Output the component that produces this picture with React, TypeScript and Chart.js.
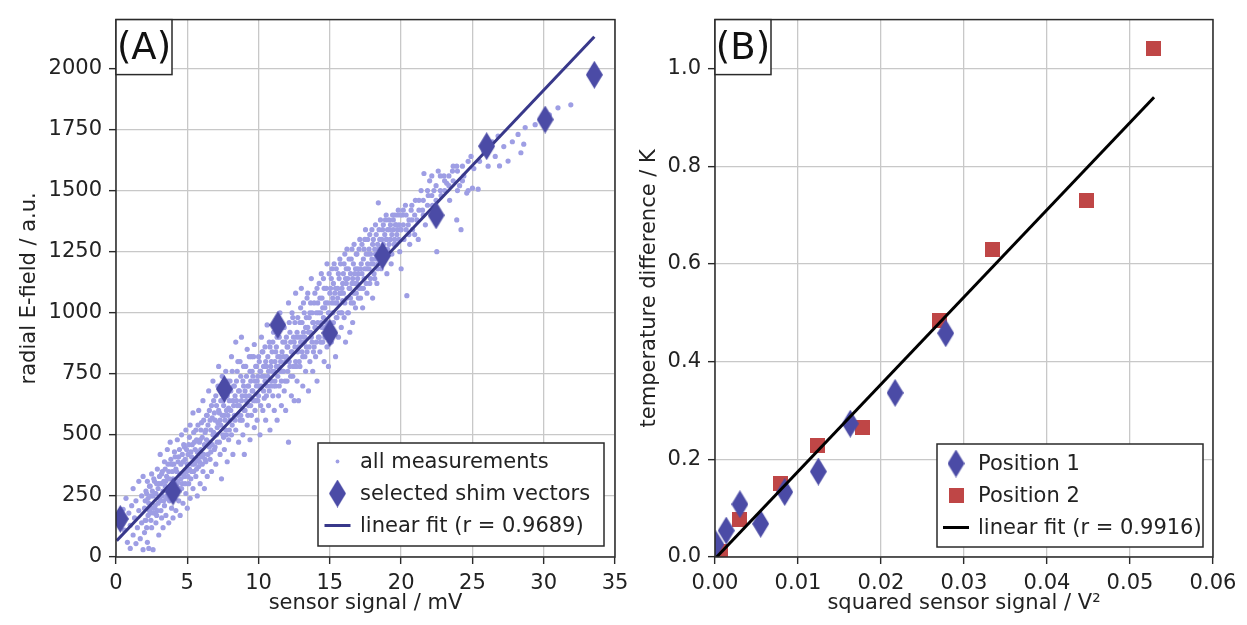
import React, { useEffect, useRef } from 'react';
import { Chart, registerables } from 'chart.js';

Chart.register(...registerables);

const FONT_FAMILY = '"DejaVu Sans", "Liberation Sans", sans-serif';
const TEXT_COLOR = '#222222';
const GRID_COLOR = '#c8c8c8';
const FRAME_COLOR = '#2a2a2a';
const DOT_COLOR = 'rgb(158,158,228)';
const DIAMOND_COLOR = '#4b4ba6';
const FIT_A_COLOR = '#38388a';
const SQUARE_COLOR = '#bf4646';
const FIT_B_COLOR = '#000000';

// ---------------- Panel A data ----------------
// all measurements: outer part of the cloud
const measurementsOuter: [number, number][] = [
  [0.4,150],[0.5,195],[0.6,110],[0.7,240],[0.8,60],[0.9,180],[1.0,35],[1.0,130],[1.1,210],[1.2,90],[1.2,280],[1.3,160],[1.4,55],[1.4,230],[1.5,120],[1.6,190],[1.6,310],[1.7,75],[1.8,250],[1.8,140],[1.9,30],[1.9,330],[2.0,200],[2.0,100],
  [2.1,270],[2.1,150],[2.2,60],[2.2,310],[2.3,220],[2.3,35],[2.4,180],[2.4,290],[2.5,120],[2.5,340],[2.6,250],[2.6,30],[2.7,200],[2.7,310],[2.8,140],[2.8,260],[2.9,360],[2.9,190],[3.0,90],[3.0,300],[3.1,230],[3.1,420],[3.2,160],[3.2,340],[3.3,270],[3.3,120],[3.4,390],[3.4,210],[3.5,310],[3.5,170],
  [3.6,440],[3.6,250],[3.7,350],[3.7,140],[3.8,470],[3.8,290],[3.9,200],[3.9,380],[4.0,160],[4.0,320],[4.1,430],[4.1,240],[4.2,360],[4.2,190],[4.3,480],[4.3,300],[4.4,230],[4.4,410],[4.5,340],[4.5,170],[4.6,500],[4.6,280],[4.7,390],[4.7,220],[4.8,450],[4.8,330],[4.9,260],[4.9,520],[5.0,380],[5.0,200],
  [5.1,460],[5.1,300],[5.2,540],[5.2,240],[5.3,410],[5.3,350],[5.4,590],[5.4,280],[5.5,470],[5.5,380],[5.6,330],[5.6,520],[5.7,250],[5.7,430],[5.8,600],[5.8,370],[5.9,480],[5.9,300],[6.0,550],[6.0,410],[6.1,350],[6.1,640],[6.2,460],[6.2,280],[6.3,520],[6.3,390],[6.4,580],[6.4,330],[6.5,470],[6.5,680],
  [6.6,400],[6.6,560],[6.7,620],[6.7,350],[6.8,500],[6.8,720],[6.9,440],[6.9,590],[7.0,380],[7.0,660],[7.1,530],[7.1,470],[7.2,780],[7.2,600],[7.3,420],[7.3,560],[7.4,700],[7.4,320],[7.5,500],[7.5,640],[7.6,580],[7.6,440],[7.7,760],[7.7,520],[7.8,660],[7.8,390],[7.9,610],[7.9,480],[8.0,720],[8.0,560],
  [8.1,820],[8.1,500],[8.2,640],[8.2,420],[8.3,700],[8.3,580],[8.4,880],[8.4,520],[8.5,760],[8.5,620],[8.6,470],[8.6,680],[8.7,800],[8.7,560],[8.8,640],[8.8,900],[8.9,720],[8.9,500],[9.0,600],[9.0,420],[9.1,780],[9.1,660],[9.2,540],[9.2,850],[9.3,700],[9.3,620],[9.4,480],[9.4,760],[9.5,820],[9.5,580],
  [9.6,680],[9.6,740],[9.7,530],[9.7,870],[9.8,640],[9.8,780],[9.9,720],[9.9,560],[10.0,820],[10.0,660],[10.1,500],[10.1,760],[10.2,900],[10.2,700],[10.3,600],[10.3,840],[10.4,740],[10.4,650],[10.5,560],[10.5,800],[10.6,950],[10.6,700],[10.7,760],[10.7,620],[10.8,860],[10.8,520],[10.9,720],[10.9,800],[11.0,660],[11.0,880],
  [11.1,760],[11.1,600],[11.2,840],[11.2,700],[11.3,560],[11.3,900],[11.4,780],[11.4,660],[11.5,1000],[11.5,820],[11.6,720],[11.6,620],[11.7,880],[11.7,760],[11.8,680],[11.8,940],[11.9,800],[11.9,600],[12.0,860],[12.0,720],[12.1,470],[12.1,1040],[12.2,780],[12.2,920],[12.3,660],[12.3,840],[12.4,740],[12.4,980],[12.5,880],[12.5,640],
  [12.6,800],[12.6,1080],[12.7,720],[12.7,920],[12.8,860],[12.8,640],[12.9,960],[12.9,780],[13.0,900],[13.0,1100],[13.1,820],[13.1,700],[13.2,1000],[13.2,880],[13.3,760],[13.3,940],[13.4,1060],[13.4,840],[13.5,920],[13.5,680],[13.6,1000],[13.6,800],[13.7,1140],[13.7,900],[13.8,960],[13.8,760],[13.9,1040],[13.9,860],[14.0,940],[14.0,820],
  [14.1,1100],[14.1,720],[14.2,1000],[14.2,900],[14.3,1060],[14.3,840],[14.4,960],[14.4,1160],[14.5,880],[14.5,1020],[14.6,800],[14.6,1100],[14.7,940],[14.7,1040],[14.8,1200],[14.8,860],[14.9,1000],[14.9,780],[15.0,1080],[15.0,960],[15.1,1140],[15.1,880],[15.2,1000],[15.2,1060],[15.3,920],[15.3,1200],[15.4,820],[15.4,1100],[15.5,980],[15.5,1040],
  [15.6,1160],[15.6,900],[15.7,1080],[15.7,1220],[15.8,1000],[15.8,940],[15.9,1120],[15.9,1050],[16.0,1200],[16.0,980],[16.1,880],[16.1,1140],[16.2,1060],[16.2,1260],[16.3,1000],[16.3,1180],[16.4,1100],[16.4,920],[16.5,1220],[16.5,1040],[16.6,1140],[16.6,960],[16.7,1280],[16.7,1080],[16.8,1180],[16.8,1020],[16.9,1120],[16.9,1240],[17.0,1060],[17.0,1160],
  [17.1,1300],[17.2,1100],[17.2,1200],[17.3,1020],[17.4,1260],[17.4,1140],[17.5,1340],[17.6,1180],[17.6,1080],[17.7,1240],[17.8,1120],[17.8,1320],[17.9,1200],[18.0,1060],[18.0,1280],[18.1,1160],[18.2,1360],[18.2,1240],[18.3,1120],[18.4,1450],[18.4,1200],[18.5,1300],
  [18.6,1180],[18.7,1340],[18.8,1260],[18.9,1380],[19.0,1160],[19.0,1300],[19.1,1240],[19.2,1340],[19.3,1200],[19.4,1400],[19.5,1280],[19.6,1360],[19.7,1320],[19.8,1420],[19.9,1250],[20.0,1340],[20.0,1180],
  [20.1,1400],[20.2,1300],[20.3,1440],[20.4,1070],[20.5,1360],[20.6,1280],[20.7,1420],[20.8,1340],[21.0,1460],[21.1,1380],[21.2,1300],[21.4,1500],[21.5,1420],[21.6,1570],[21.7,1360],[21.9,1480],
  [22.0,1540],[22.2,1440],[22.3,1500],[22.5,1250],[22.6,1580],[22.8,1480],[23.0,1560],[23.2,1530],[23.4,1460],[23.6,1580],[23.9,1380],[23.9,1600],[24.1,1520],[24.2,1340],[24.4,1560],[24.6,1490],[24.9,1640],[25.0,1510],[25.1,1590],
  [25.4,1506],[25.5,1620],[25.8,1660],[26.1,1600],[26.4,1700],[26.6,1640],[26.8,1723],[26.9,1601],[27.2,1680],[27.5,1621],[27.8,1700],[28.2,1730],[28.4,1655],[28.6,1690],[28.7,1758],
  [29.4,1770],[30.4,1810],[31.0,1839],[31.9,1851],
];
// all measurements: dense core of the cloud near the fit line
const measurementsCore: [number, number][] = [
  [2.05,230],[2.05,150],[2.15,120],[2.15,260],[2.25,240],[2.25,170],[2.35,290],[2.35,190],[2.45,150],[2.45,250],[2.55,270],[2.55,200],[2.65,180],[2.65,320],[2.75,260],[2.75,210],[2.85,300],[2.85,170],[2.95,220],[2.95,280],
  [3.05,330],[3.05,240],[3.15,190],[3.15,300],[3.25,350],[3.25,250],[3.35,230],[3.35,310],[3.45,290],[3.45,360],[3.55,240],[3.55,330],[3.65,380],[3.65,270],[3.75,320],[3.75,230],[3.85,260],[3.85,400],[3.95,350],[3.95,290],
  [4.05,270],[4.05,380],[4.15,410],[4.15,300],[4.25,260],[4.25,350],[4.35,390],[4.35,310],[4.45,280],[4.45,440],[4.55,380],[4.55,320],[4.65,300],[4.65,420],[4.75,460],[4.75,340],[4.85,300],[4.85,400],[4.95,440],[4.95,350],
  [5.05,330],[5.05,420],[5.15,490],[5.15,360],[5.25,320],[5.25,430],[5.35,460],[5.35,380],[5.45,350],[5.45,510],[5.55,440],[5.55,390],[5.65,480],[5.65,360],[5.75,540],[5.75,400],[5.85,390],[5.85,470],[5.95,520],[5.95,440],
  [6.05,380],[6.05,490],[6.15,560],[6.15,420],[6.25,400],[6.25,510],[6.35,480],[6.35,580],[6.45,420],[6.45,540],[6.55,600],[6.55,450],[6.65,520],[6.65,430],[6.75,570],[6.75,460],[6.85,640],[6.85,510],[6.95,450],[6.95,560],
  [7.05,620],[7.05,500],[7.15,550],[7.15,700],[7.25,470],[7.25,590],[7.35,640],[7.35,540],[7.45,580],[7.45,740],[7.55,490],[7.55,620],[7.65,680],[7.65,560],[7.75,600],[7.75,500],[7.85,720],[7.85,580],[7.95,520],[7.95,640],
  [8.05,680],[8.05,600],[8.15,760],[8.15,540],[8.25,620],[8.25,700],[8.35,560],[8.35,660],[8.45,720],[8.45,640],[8.55,580],[8.55,800],[8.65,680],[8.65,620],[8.75,740],[8.75,580],[8.85,660],[8.85,560],[8.95,700],[8.95,780],
  [9.05,600],[9.05,680],[9.15,740],[9.15,640],[9.25,700],[9.25,580],[9.35,820],[9.35,660],[9.45,620],[9.45,720],[9.55,760],[9.55,680],[9.65,640],[9.65,820],[9.75,720],[9.75,600],[9.85,780],[9.85,700],[9.95,640],[9.95,740],
  [10.05,800],[10.05,700],[10.15,620],[10.15,760],[10.25,740],[10.25,840],[10.35,680],[10.35,780],[10.45,860],[10.45,720],[10.55,660],[10.55,780],[10.65,820],[10.65,740],[10.75,680],[10.75,880],[10.85,780],[10.85,700],[10.95,840],[10.95,760],
  [11.05,700],[11.05,920],[11.15,800],[11.15,720],[11.25,860],[11.25,780],[11.35,740],[11.35,820],[11.45,900],[11.45,700],[11.55,800],[11.55,760],[11.65,840],[11.65,940],[11.75,760],[11.75,820],[11.85,880],[11.85,720],[11.95,820],[11.95,900],
  [12.05,760],[12.05,860],[12.15,960],[12.15,800],[12.25,740],[12.25,880],[12.35,840],[12.35,1000],[12.45,900],[12.45,780],[12.55,860],[12.55,960],[12.65,780],[12.65,900],[12.75,980],[12.75,840],[12.85,900],[12.85,800],[12.95,1020],[12.95,880],
  [13.05,840],[13.05,960],[13.15,920],[13.15,1040],[13.25,820],[13.25,900],[13.35,980],[13.35,860],[13.45,940],[13.45,1080],[13.55,860],[13.55,980],[13.65,1040],[13.65,920],[13.75,880],[13.75,1000],[13.85,960],[13.85,840],[13.95,1080],[13.95,940],
  [14.05,880],[14.05,1000],[14.15,1040],[14.15,960],[14.25,900],[14.25,1120],[14.35,1000],[14.35,880],[14.45,1060],[14.45,940],[14.55,1140],[14.55,980],[14.65,1020],[14.65,900],[14.75,1100],[14.75,960],[14.85,1040],[14.85,940],[14.95,1160],[14.95,1000],
  [15.05,940],[15.05,1100],[15.15,1040],[15.15,1180],[15.25,960],[15.25,1120],[15.35,1080],[15.35,1040],[15.45,1180],[15.45,980],[15.55,1100],[15.55,1060],[15.65,1000],[15.65,1140],[15.75,1200],[15.75,1080],[15.85,1100],[15.85,1000],[15.95,1160],[15.95,1080],
  [16.05,1040],[16.05,1240],[16.15,1120],[16.15,1180],[16.25,1000],[16.25,1140],[16.35,1220],[16.35,1100],[16.45,1160],[16.45,1060],[16.55,1260],[16.55,1120],[16.65,1040],[16.65,1200],[16.75,1160],[16.75,1120],[16.85,1240],[16.85,1080],[16.95,1180],[16.95,1140],
  [17.05,1260],[17.05,1100],[17.15,1180],[17.15,1060],[17.25,1280],[17.25,1160],[17.35,1220],[17.35,1100],[17.45,1180],[17.45,1300],[17.55,1240],[17.55,1120],[17.65,1300],[17.65,1200],[17.75,1180],[17.75,1260],[17.85,1240],[17.85,1140],[17.95,1340],[17.95,1220],
  [18.05,1200],[18.05,1300],[18.15,1260],[18.15,1140],[18.25,1320],[18.25,1220],[18.35,1180],[18.35,1280],[18.45,1340],[18.45,1260],[18.55,1240],[18.55,1380],[18.65,1300],[18.65,1200],[18.75,1280],[18.75,1360],[18.85,1220],[18.85,1320],[18.95,1300],[18.95,1400],
  [19.05,1340],[19.05,1260],[19.15,1280],[19.15,1380],[19.25,1360],[19.25,1300],[19.35,1320],[19.35,1240],[19.45,1380],[19.45,1340],[19.55,1300],[19.55,1400],[19.65,1360],[19.65,1280],[19.75,1340],[19.75,1400],[19.85,1300],[19.85,1360],[19.95,1400],[19.95,1340],
  [20.15,1360],[20.15,1420],[20.35,1340],[20.35,1400],[20.55,1380],[20.55,1320],[20.75,1440],[20.75,1380],[20.95,1400],[20.95,1320],[21.25,1420],[21.25,1460],[21.55,1460],[21.55,1400],[21.85,1500],[21.85,1440],
  [22.15,1480],[22.15,1560],[22.45,1520],[22.45,1460],[22.75,1500],[22.75,1560],[23.05,1540],[23.05,1500],[23.35,1560],[23.35,1520],[23.65,1540],[23.65,1600],[23.95,1580],[23.95,1500],[24.3,1600],[24.3,1540],[24.7,1500],[24.7,1620],
];
const shimX = [0.3, 4.0, 7.6, 11.35, 15.0, 18.7, 22.45, 26.0, 30.1, 33.55];
const shimY = [156, 268, 688, 950, 917, 1234, 1399, 1682, 1791, 1974];
const fitAX = [0.05, 33.55];
const fitAY = [67, 2130];
const xTicksA = [0, 5, 10, 15, 20, 25, 30, 35];
const yTicksA = [0, 250, 500, 750, 1000, 1250, 1500, 1750, 2000];

// ---------------- Panel B data ----------------
const pos1X = [0.0001, 0.00135, 0.0030, 0.0055, 0.0084, 0.01245, 0.0163, 0.0217, 0.0278];
const pos1Y = [0.026, 0.054, 0.108, 0.068, 0.133, 0.175, 0.273, 0.336, 0.458];
const pos2X = [0.0007, 0.0029, 0.0079, 0.0123, 0.0178, 0.02705, 0.0334, 0.0448, 0.0528];
const pos2Y = [0.012, 0.077, 0.151, 0.228, 0.265, 0.485, 0.630, 0.730, 1.040];
const fitBX = [0.0002, 0.0529];
const fitBY = [0.0, 0.941];
const xTicksB = [0, 0.01, 0.02, 0.03, 0.04, 0.05, 0.06];
const yTicksB = [0, 0.2, 0.4, 0.6, 0.8, 1.0];

function makeDiamond(color: string, w: number, h: number) {
  const c = document.createElement('canvas');
  c.width = w; c.height = h;
  const g = c.getContext('2d')!;
  g.fillStyle = color;
  g.beginPath();
  g.moveTo(w / 2, 0); g.lineTo(w, h / 2); g.lineTo(w / 2, h); g.lineTo(0, h / 2);
  g.closePath(); g.fill();
  return c;
}
function makeSquare(color: string, s: number) {
  const c = document.createElement('canvas');
  c.width = s; c.height = s;
  const g = c.getContext('2d')!;
  g.fillStyle = color;
  g.fillRect(0, 0, s, s);
  return c;
}

type Item = { kind: 'dot' | 'marker' | 'line'; color: string; label: string; img?: HTMLCanvasElement };
type Box = { left: number; top: number; width: number; height: number; markerX: number; textX: number; row0: number; step: number };

function makeDeco(panel: string, items: Item[], box: Box) {
  return {
    id: 'deco' + panel,
    afterDatasetsDraw(chart: any) {
      const { ctx, chartArea: ca } = chart;
      ctx.save();
      ctx.lineWidth = 1.5;
      ctx.strokeStyle = FRAME_COLOR;
      ctx.strokeRect(ca.left, ca.top, ca.right - ca.left, ca.bottom - ca.top);
      // legend
      const bx = box.left, by = box.top;
      ctx.fillStyle = '#ffffff';
      ctx.fillRect(bx, by, box.width, box.height);
      ctx.strokeRect(bx, by, box.width, box.height);
      items.forEach((it, i) => {
        const y = by + box.row0 + i * box.step;
        const mx = bx + box.markerX;
        if (it.kind === 'dot') {
          ctx.fillStyle = it.color;
          ctx.beginPath(); ctx.arc(mx, y, 1.9, 0, Math.PI * 2); ctx.fill();
        } else if (it.kind === 'line') {
          ctx.strokeStyle = it.color; ctx.lineWidth = 3;
          ctx.beginPath(); ctx.moveTo(mx - 13, y); ctx.lineTo(mx + 13, y); ctx.stroke();
        } else if (it.img) {
          ctx.drawImage(it.img, mx - it.img.width / 2, y - it.img.height / 2);
        }
        ctx.fillStyle = TEXT_COLOR;
        ctx.font = `21px ${FONT_FAMILY}`;
        ctx.textAlign = 'left';
        ctx.textBaseline = 'middle';
        ctx.fillText(it.label, bx + box.textX, y + 1);
      });
      // panel label
      ctx.lineWidth = 1.5;
      ctx.strokeStyle = FRAME_COLOR;
      ctx.fillStyle = '#ffffff';
      ctx.fillRect(ca.left, ca.top, 56, 55);
      ctx.strokeRect(ca.left, ca.top, 56, 55);
      ctx.fillStyle = '#111111';
      ctx.font = `37px ${FONT_FAMILY}`;
      ctx.textAlign = 'center';
      ctx.textBaseline = 'alphabetic';
      ctx.fillText(panel, ca.left + 28, ca.top + 39);
      ctx.restore();
    },
  };
}

function scale(opts: {
  axis: 'x' | 'y'; min: number; max: number; ticks: number[]; decimals: number; title: string; size: number; titlePad: any;
}) {
  return {
    type: 'linear' as const,
    min: opts.min,
    max: opts.max,
    afterBuildTicks: (s: any) => { s.ticks = opts.ticks.map((v) => ({ value: v })); },
    afterFit: (s: any) => { if (opts.axis === 'x') s.height = opts.size; else s.width = opts.size; },
    grid: { color: GRID_COLOR, lineWidth: 1.3, tickColor: FRAME_COLOR, tickLength: 7, tickWidth: 1.4, drawTicks: true },
    border: { display: false },
    ticks: {
      autoSkip: false, maxRotation: 0, padding: 7, color: TEXT_COLOR,
      font: { family: FONT_FAMILY, size: 21 },
      callback: (v: any) => Number(v).toFixed(opts.decimals),
    },
    title: { display: true, text: opts.title, color: TEXT_COLOR, font: { family: FONT_FAMILY, size: 21 }, padding: opts.titlePad },
  };
}

export default function App() {
  const refA = useRef<HTMLCanvasElement>(null);
  const refB = useRef<HTMLCanvasElement>(null);

  useEffect(() => {
    const diamond = makeDiamond(DIAMOND_COLOR, 17, 28);
    const square = makeSquare(SQUARE_COLOR, 15);
    const allMeasurements = measurementsOuter.concat(measurementsCore);

    const chartA = new Chart(refA.current!, {
      type: 'scatter',
      data: {
        datasets: [
          {
            label: 'selected shim vectors',
            data: shimX.map((x, i) => ({ x, y: shimY[i] })),
            pointStyle: diamond as any, pointRadius: 10, order: 1, clip: 0,
          } as any,
          {
            label: 'linear fit (r = 0.9689)',
            data: fitAX.map((x, i) => ({ x, y: fitAY[i] })),
            showLine: true, borderColor: FIT_A_COLOR, borderWidth: 3, pointRadius: 0, order: 2, clip: 0,
          },
          {
            label: 'all measurements',
            data: allMeasurements.map(([x, y]) => ({ x, y })),
            backgroundColor: DOT_COLOR, borderWidth: 0, pointRadius: 2.6, order: 3, clip: 0,
          },
        ],
      },
      options: {
        animation: false, responsive: false, devicePixelRatio: 1, events: [],
        layout: { padding: { left: 0, top: 12, right: 25, bottom: 0 }, autoPadding: false } as any,
        plugins: { legend: { display: false }, tooltip: { enabled: false } },
        scales: {
          x: scale({ axis: 'x', min: 0, max: 35, ticks: xTicksA, decimals: 0, title: 'sensor signal / mV', size: 68, titlePad: { top: 0, bottom: 9 } }) as any,
          y: scale({ axis: 'y', min: 0, max: 2200, ticks: yTicksA, decimals: 0, title: 'radial E-field / a.u.', size: 116, titlePad: { top: 17, bottom: 0 } }) as any,
        },
      },
      plugins: [makeDeco('(A)', [
        { kind: 'dot', color: DOT_COLOR, label: 'all measurements' },
        { kind: 'marker', color: DIAMOND_COLOR, label: 'selected shim vectors', img: diamond },
        { kind: 'line', color: FIT_A_COLOR, label: 'linear fit (r = 0.9689)' },
      ], { left: 318, top: 443, width: 286, height: 103, markerX: 19.5, textX: 42, row0: 18.5, step: 32 })],
    });

    const chartB = new Chart(refB.current!, {
      type: 'scatter',
      data: {
        datasets: [
          {
            label: 'Position 1',
            data: pos1X.map((x, i) => ({ x, y: pos1Y[i] })),
            pointStyle: diamond as any, pointRadius: 10, order: 2, clip: 0,
          } as any,
          {
            label: 'Position 2',
            data: pos2X.map((x, i) => ({ x, y: pos2Y[i] })),
            pointStyle: square as any, pointRadius: 8, order: 3, clip: 0,
          } as any,
          {
            label: 'linear fit (r = 0.9916)',
            data: fitBX.map((x, i) => ({ x, y: fitBY[i] })),
            showLine: true, borderColor: FIT_B_COLOR, borderWidth: 3, pointRadius: 0, order: 1, clip: 0,
          },
        ],
      },
      options: {
        animation: false, responsive: false, devicePixelRatio: 1, events: [],
        layout: { padding: { left: 0, top: 12, right: 34, bottom: 0 }, autoPadding: false } as any,
        plugins: { legend: { display: false }, tooltip: { enabled: false } },
        scales: {
          x: scale({ axis: 'x', min: 0, max: 0.06, ticks: xTicksB, decimals: 2, title: 'squared sensor signal / V²', size: 68, titlePad: { top: 0, bottom: 9 } }) as any,
          y: scale({ axis: 'y', min: 0, max: 1.1, ticks: yTicksB, decimals: 1, title: 'temperature difference / K', size: 95, titlePad: { top: 17, bottom: 0 } }) as any,
        },
      },
      plugins: [makeDeco('(B)', [
        { kind: 'marker', color: DIAMOND_COLOR, label: 'Position 1', img: diamond },
        { kind: 'marker', color: SQUARE_COLOR, label: 'Position 2', img: square },
        { kind: 'line', color: FIT_B_COLOR, label: 'linear fit (r = 0.9916)' },
      ], { left: 317, top: 444, width: 266, height: 103, markerX: 19, textX: 41, row0: 19.5, step: 32 })],
    });

    return () => { chartA.destroy(); chartB.destroy(); };
  }, []);

  return (
    <div style={{ position: 'absolute', left: 0, top: 0, width: 1247, height: 625, background: '#ffffff', overflow: 'hidden' }}>
      <canvas ref={refA} width={640} height={625} style={{ position: 'absolute', left: 0, top: 0, width: 640, height: 625 }} />
      <canvas ref={refB} width={627} height={625} style={{ position: 'absolute', left: 620, top: 0, width: 627, height: 625 }} />
    </div>
  );
}
